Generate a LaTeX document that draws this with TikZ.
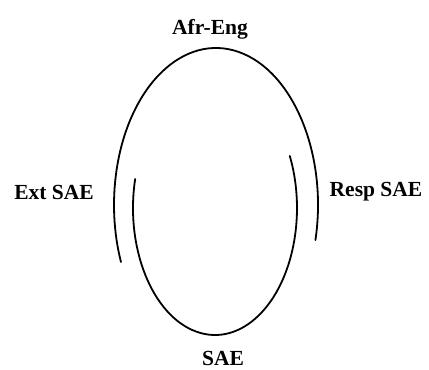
\documentclass[tikz,border=0pt]{standalone}
\usepackage{fontspec}
\setmainfont{Liberation Serif}
\usetikzlibrary{calc}
\tikzset{
  lbl/.style={font=\fontsize{21.5}{24}\selectfont\bfseries, inner sep=0pt, anchor=center},
  stroke/.style={line width=1.8pt, line cap=round, black}
}
\begin{document}
\begin{tikzpicture}[x=1pt,y=1pt]
\useasboundingbox (0,0) rectangle (429,370);
% labels
\node[lbl] (afr) at (210,341) {Afr-Eng};
\node[lbl] (ext) at (54,178) {Ext SAE};
\node[lbl] (resp) at (376,178) {Resp SAE};
\node[lbl] (sae) at (223,12) {SAE};
% centres of the two loops
\coordinate (oc) at (216,165);
\coordinate (ic) at (215,162);
% outer (upper) loop
\draw[stroke] ($(oc)+(-12.9:102pt and 157pt)$) arc[start angle=-12.9, end angle=201.3, x radius=102pt, y radius=157pt];
% inner (lower) loop
\draw[stroke] ($(ic)+(166.8:82pt and 127pt)$) arc[start angle=166.8, end angle=384.2, x radius=82pt, y radius=127pt];
\end{tikzpicture}
\end{document}
